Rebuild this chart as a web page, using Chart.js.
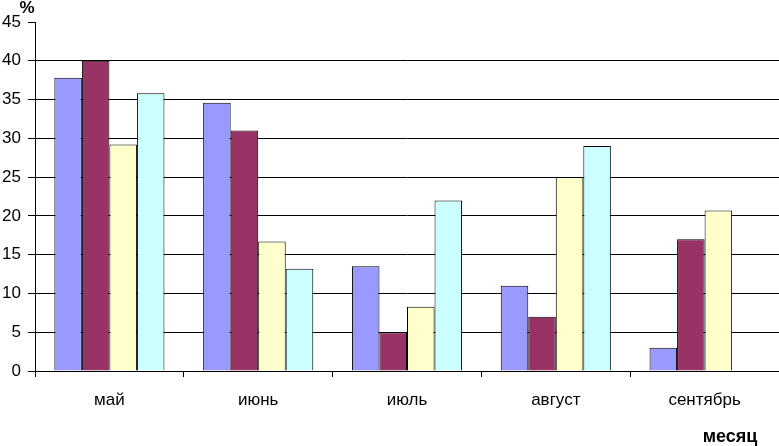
<!DOCTYPE html>
<html><head><meta charset="utf-8">
<script src="https://cdn.jsdelivr.net/npm/chart.js@4/dist/chart.umd.min.js"></script>
<style>html,body{margin:0;padding:0;background:#fff}#w{width:779px;height:446px}</style>
</head><body><div id="w"><canvas id="c" width="779" height="446"></canvas></div>
<script>
const categories = ["май", "июнь", "июль", "август", "сентябрь"];
const series1 = [37.8, 34.6, 13.5, 11, 3];
const series2 = [40, 31, 5, 7, 17];
const series3 = [29.2, 16.7, 8.3, 25, 20.7];
const series4 = [35.8, 13.2, 22, 29, null];
const yTicks = [0, 5, 10, 15, 20, 25, 30, 35, 40, 45];
const yTitle = "%";
const xTitle = "месяц";

const titles = {
  id: 'titles',
  afterDraw(chart) {
    const ctx = chart.ctx;
    ctx.save();
    ctx.fillStyle = '#000';
    ctx.font = 'bold 17px "Liberation Sans", Arial, sans-serif';
    ctx.textAlign = 'center';
    ctx.textBaseline = 'middle';
    ctx.fillText(yTitle, 27, 8);
    ctx.font = 'bold 18px "Liberation Sans", Arial, sans-serif';
    ctx.fillText(xTitle, 730, 437);
    ctx.restore();
  }
};

const mk = (data, color) => ({data, backgroundColor: color, borderColor: '#000', borderWidth: 1,
  barPercentage: 1, categoryPercentage: 0.74});

new Chart(document.getElementById('c'), {
  type: 'bar',
  data: {
    labels: categories,
    datasets: [
      mk(series1, '#9999FF'),
      mk(series2, '#993366'),
      mk(series3, '#FFFFCC'),
      mk(series4, '#CCFFFF')
    ]
  },
  options: {
    responsive: false,
    animation: false,
    layout: {padding: {top: 22, left: 0, right: 0, bottom: 0}},
    plugins: {legend: {display: false}, tooltip: {enabled: false}},
    scales: {
      x: {
        grid: {offset: true, drawOnChartArea: false, drawTicks: true, tickLength: 6, color: '#000'},
        border: {color: '#000', width: 1},
        ticks: {color: '#000', font: {size: 17, family: '"Liberation Sans", Arial, sans-serif'}, padding: 13},
        afterFit: s => { s.height = 75; }
      },
      y: {
        min: 0, max: 45,
        afterBuildTicks: s => { s.ticks = yTicks.map(v => ({value: v})); },
        grid: {color: c => c.tick && c.tick.value === 45 ? 'rgba(0,0,0,0)' : '#000', tickColor: '#000', tickLength: 7},
        border: {color: '#000', width: 1},
        ticks: {color: '#000', font: {size: 17, family: '"Liberation Sans", Arial, sans-serif'}, padding: 7},
        afterFit: s => { s.width = 35; }
      }
    }
  },
  plugins: [titles]
});
</script></body></html>
